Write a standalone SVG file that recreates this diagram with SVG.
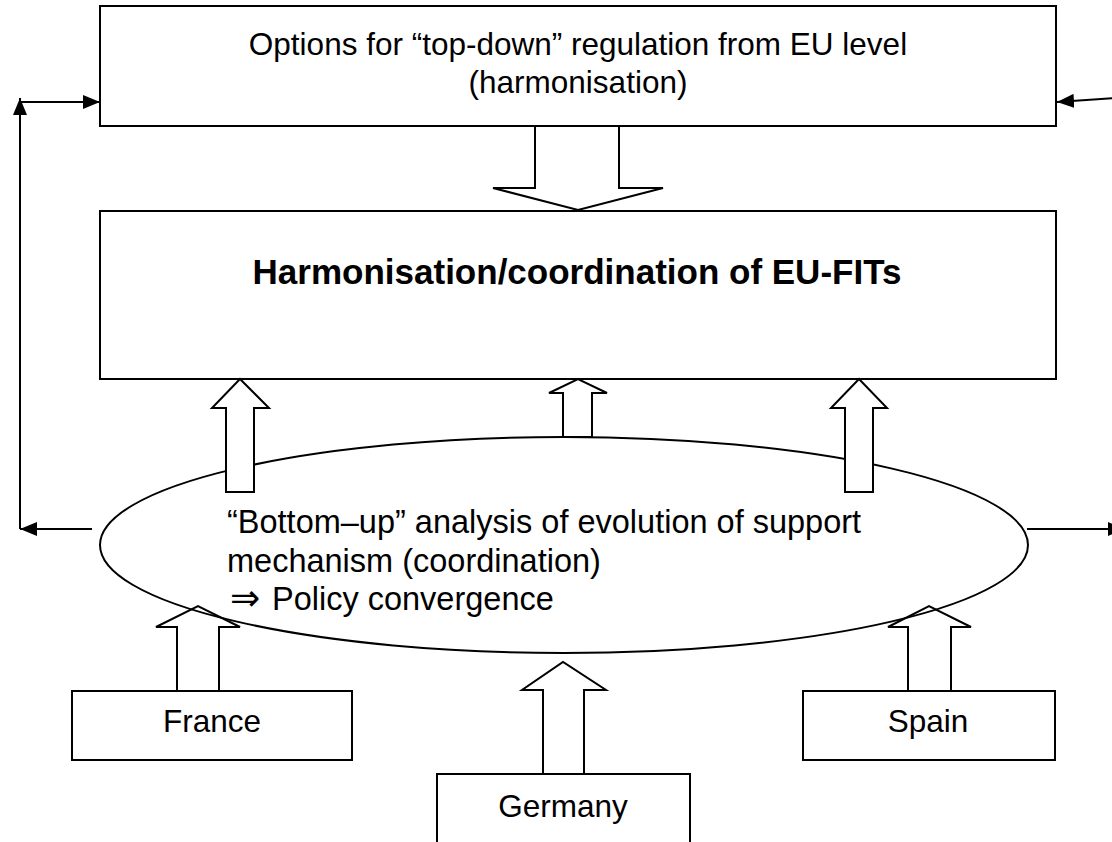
<svg xmlns="http://www.w3.org/2000/svg" width="1112" height="842" viewBox="0 0 1112 842">
<style>
.box{fill:#fff;stroke:#000;stroke-width:2}
.blk{fill:#fff;stroke:#000;stroke-width:2;stroke-linejoin:miter}
.con{fill:none;stroke:#000;stroke-width:2}
text{font-family:"Liberation Sans",Arial,sans-serif;font-size:31.5px;fill:#000}
.c{text-anchor:middle}
.b{font-weight:bold;font-size:35px}
.e{font-size:32.5px}
</style>
<defs>
<marker id="ah" markerUnits="userSpaceOnUse" markerWidth="17" markerHeight="14" refX="17" refY="7" orient="auto">
<path d="M0,0 L17,7 L0,14 z" fill="#000"/>
</marker>
</defs>
<g id="top">
<rect class="box" x="100" y="6" width="956" height="120"/>
<text class="c" x="578" y="55">Options for “top-down” regulation from EU level</text>
<text class="c" x="578" y="93">(harmonisation)</text>
</g>
<g id="harm">
<rect class="box" x="100" y="211" width="956" height="168"/>
<text class="c b" x="577" y="284">Harmonisation/coordination of EU-FITs</text>
</g>
<g id="france">
<rect class="box" x="72" y="691" width="280" height="69"/>
<text class="c" x="212" y="732">France</text>
</g>
<g id="spain">
<rect class="box" x="803" y="691" width="252" height="69"/>
<text class="c" x="928" y="732">Spain</text>
</g>
<g id="germany">
<rect class="box" x="437" y="774" width="253" height="90"/>
<text class="c" x="563" y="817">Germany</text>
</g>
<g id="connectors">
<polygon class="blk" points="535,126 619,126 619,188 663,188 578,210 493,188 535,188"/>
<polygon class="blk" points="177,691 219,691 219,627 240,627 198,606 156,627 177,627"/>
<polygon class="blk" points="543,774 584,774 584,690 606,690 563,662 522,690 543,690"/>
<polygon class="blk" points="908,691 951,691 951,627 971,627 929,606 888,627 908,627"/>
<path class="con" d="M92,529 L20,529" marker-end="url(#ah)"/>
<path class="con" d="M20,529 L20,98" marker-end="url(#ah)"/>
<path class="con" d="M20,102 L100,102" marker-end="url(#ah)"/>
<path class="con" d="M1027,529 L1125,529" marker-end="url(#ah)"/>
<path class="con" d="M1115,98 L1057,102" marker-end="url(#ah)"/>
</g>
<g id="ellipse">
<ellipse class="con" cx="564" cy="545" rx="464" ry="108"/>
<text class="e" x="227" y="533">“Bottom–up” analysis of evolution of support</text>
<text class="e" x="227" y="572">mechanism (coordination)</text>
<text class="e" x="230" y="610"><tspan font-family="'DejaVu Sans',sans-serif" font-size="36">⇒</tspan><tspan x="272">Policy convergence</tspan></text>
</g>
<g id="uparrows">
<polygon class="blk" points="226,492 254,492 254,408 269,408 240,379 212,408 226,408"/>
<polygon class="blk" points="563,437 592,437 592,393 607,393 578,379 549,393 563,393"/>
<polygon class="blk" points="845,492 873,492 873,408 887,408 859,379 831,408 845,408"/>
</g>
</svg>
